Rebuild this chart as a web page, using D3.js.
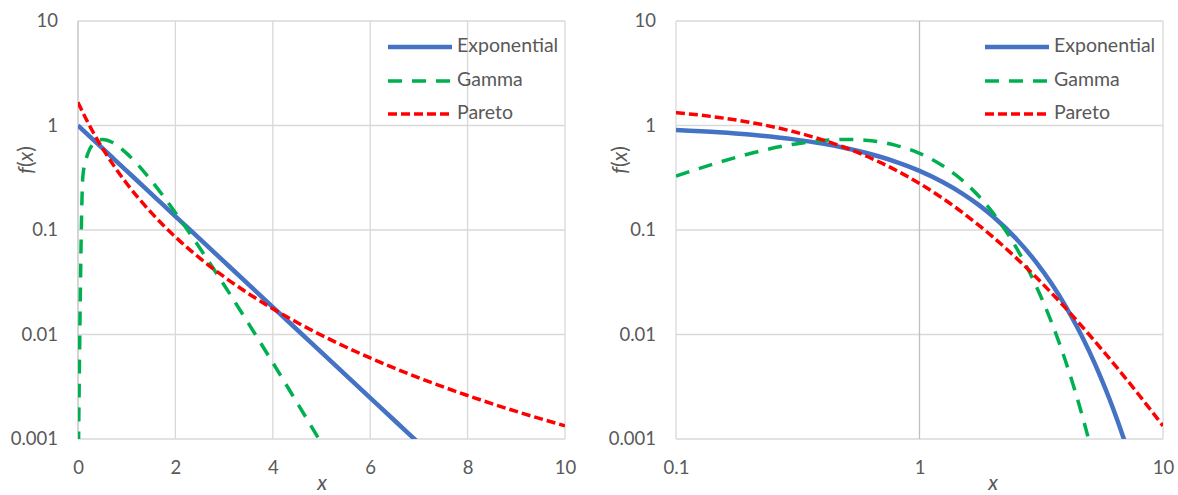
<!DOCTYPE html>
<html>
<head>
<meta charset="utf-8">
<script src="https://cdn.jsdelivr.net/npm/d3@7"></script>
<style>
  html, body { margin: 0; padding: 0; background: #ffffff; }
  svg { display: block; }
  text { font-family: Lato, "Open Sans", sans-serif; fill: #595959; }
</style>
</head>
<body>
<svg id="chart" width="1178" height="495"></svg>
<script>
// ---- data ----
const xValues = [0, 0.1, 0.15, 0.2, 0.3, 0.4, 0.5, 0.6, 0.7, 0.8, 0.9, 1, 1.25, 1.5, 1.75, 2, 2.5, 3, 3.5, 4, 4.5, 5, 5.5, 6, 6.5, 7, 7.5, 8, 9, 10];
const exponentialValues = [1, 0.9048, 0.8607, 0.8187, 0.7408, 0.6703, 0.6065, 0.5488, 0.4966, 0.4493, 0.4066, 0.3679, 0.2865, 0.2231, 0.1738, 0.1353, 0.0821, 0.0498, 0.0302, 0.0183, 0.0111, 0.00674, 0.00409, 0.00248, 0.001503, 0.000912, 0.000553, 0.000335, 0.000123, 0.0000454];
const gammaValues = [0.0003, 0.3275, 0.4445, 0.5363, 0.6586, 0.7189, 0.7358, 0.7229, 0.6905, 0.646, 0.5951, 0.5413, 0.4104, 0.2987, 0.2114, 0.1465, 0.06738, 0.02975, 0.01277, 0.005368, 0.002221, 0.000908, 0.000367, 0.000147, 0.000059, 0.000023, 0.0000092, 0.0000036, 0.00000055, 0.000000082];
const paretoValues = [1.667, 1.33, 1.194, 1.0755, 0.8805, 0.7287, 0.6089, 0.5133, 0.4362, 0.3734, 0.3217, 0.2788, 0.1997, 0.1473, 0.1113, 0.0859, 0.0538, 0.03564, 0.02465, 0.01766, 0.01302, 0.00984, 0.00759, 0.005963, 0.004758, 0.003848, 0.003152, 0.002607, 0.001836, 0.001336];
const seriesNames = ["Exponential", "Gamma", "Pareto"];
const yTickValues = [0.001, 0.01, 0.1, 1, 10];
const yTickLabels = ["0.001", "0.01", "0.1", "1", "10"];
const leftXTickValues = [0, 2, 4, 6, 8, 10];
const leftXTickLabels = ["0", "2", "4", "6", "8", "10"];
const rightXTickValues = [0.1, 1, 10];
const rightXTickLabels = ["0.1", "1", "10"];

// ---- styles ----
const seriesStyles = [
  { color: "#4472C4", width: 4.5, dash: null },
  { color: "#00B050", width: 3.5, dash: "14,10" },
  { color: "#FF0000", width: 3.5, dash: "9,4" }
];
const seriesData = [exponentialValues, gammaValues, paretoValues];

const svg = d3.select("#chart");
const plotTop = 21, plotBottom = 439;

const panels = [
  { id: "L", left: 78, right: 565, log: false, domain: [0, 10], ticks: leftXTickValues, labels: leftXTickLabels,
    axisX: 0, yLabelX: 28, xTitleX: 322, legendX: 388 },
  { id: "R", left: 676, right: 1163, log: true, domain: [0.1, 10], ticks: rightXTickValues, labels: rightXTickLabels,
    axisX: 1, yLabelX: 622, xTitleX: 993, legendX: 985 }
];

panels.forEach(p => {
  const x = (p.log ? d3.scaleLog() : d3.scaleLinear()).domain(p.domain).range([p.left, p.right]);
  const y = d3.scaleLog().domain([0.001, 10]).range([plotBottom, plotTop]);
  const g = svg.append("g");

  // gridlines
  g.selectAll(".hg").data(yTickValues).join("line")
    .attr("x1", p.left).attr("x2", p.right)
    .attr("y1", d => y(d)).attr("y2", d => y(d))
    .attr("stroke", "#D9D9D9").attr("stroke-width", 1.3);
  g.selectAll(".vg").data(p.ticks).join("line")
    .attr("x1", d => x(d)).attr("x2", d => x(d))
    .attr("y1", plotTop).attr("y2", plotBottom)
    .attr("stroke", d => d === p.axisX ? "#BFBFBF" : "#D9D9D9").attr("stroke-width", 1.3);

  // y axis labels
  const yAxis = d3.axisLeft(y).tickValues(yTickValues)
    .tickFormat((d, i) => yTickLabels[i]).tickSize(0).tickPadding(20);
  const ya = g.append("g").attr("transform", `translate(${p.left},0)`).call(yAxis);
  ya.select(".domain").remove();
  ya.selectAll("text").style("font-family", "Lato, sans-serif").style("font-size", "18.5px").attr("fill", "#595959");

  // x axis labels
  const xAxis = d3.axisBottom(x).tickValues(p.ticks)
    .tickFormat((d, i) => p.labels[i]).tickSize(0).tickPadding(22);
  const xa = g.append("g").attr("transform", `translate(0,${plotBottom})`).call(xAxis);
  xa.select(".domain").remove();
  xa.selectAll("text").style("font-family", "Lato, sans-serif").style("font-size", "18.5px").attr("fill", "#595959");

  // clip
  svg.append("clipPath").attr("id", "clip" + p.id)
    .append("rect").attr("x", p.left).attr("y", plotTop).attr("width", p.right - p.left).attr("height", plotBottom - plotTop);

  const lines = g.append("g").attr("clip-path", `url(#clip${p.id})`);
  seriesData.forEach((vals, si) => {
    const pts = xValues.map((xv, i) => [xv, vals[i]]).filter(d => !p.log || d[0] > 0);
    const line = d3.line().x(d => x(d[0])).y(d => y(d[1])).curve(d3.curveMonotoneX);
    const st = seriesStyles[si];
    lines.append("path").datum(pts)
      .attr("d", line)
      .attr("fill", "none")
      .attr("stroke", st.color)
      .attr("stroke-width", st.width)
      .attr("stroke-dasharray", st.dash)
      .attr("stroke-linejoin", "round");
  });

  // axis titles
  g.append("text").attr("x", p.xTitleX).attr("y", 490).attr("text-anchor", "middle")
    .style("font-size", "21px").style("font-style", "italic").text("x");
  const yl = g.append("text").attr("transform", `translate(${p.yLabelX},160) rotate(-90)`)
    .attr("text-anchor", "middle").attr("dominant-baseline", "middle").style("font-size", "21px");
  yl.append("tspan").style("font-style", "italic").text("f");
  yl.append("tspan").text("(");
  yl.append("tspan").style("font-style", "italic").text("x");
  yl.append("tspan").text(")");

  // legend
  const rowsY = [47, 81, 114];
  seriesNames.forEach((name, si) => {
    const st = seriesStyles[si];
    g.append("line").attr("x1", p.legendX).attr("x2", p.legendX + 64)
      .attr("y1", rowsY[si]).attr("y2", rowsY[si])
      .attr("stroke", st.color).attr("stroke-width", st.width).attr("stroke-dasharray", st.dash);
    g.append("text").attr("x", p.legendX + 69).attr("y", rowsY[si])
      .attr("dominant-baseline", "middle").style("font-size", "19.5px").text(name);
  });
});
</script>
</body>
</html>
